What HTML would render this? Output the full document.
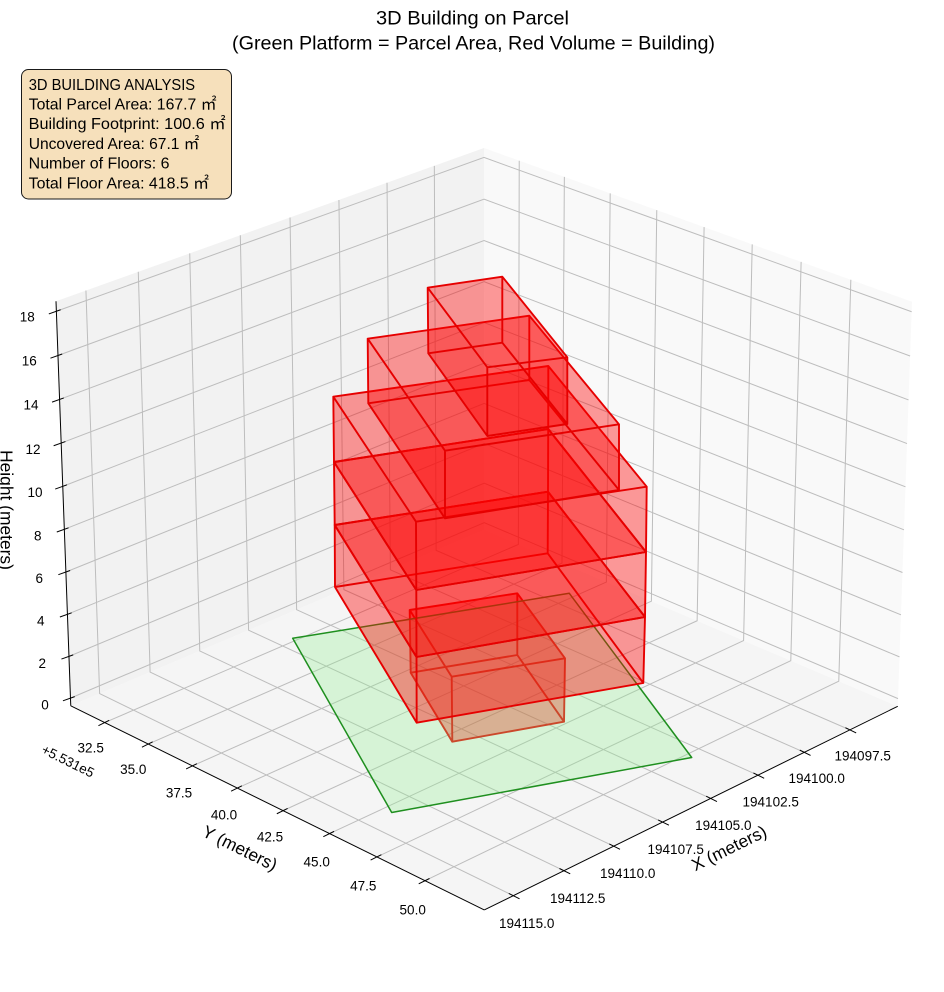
<!DOCTYPE html>
<html><head><meta charset="utf-8">
<style>
html,body{margin:0;padding:0;background:#fff;}
svg{display:block;font-family:"Liberation Sans","Noto Sans CJK JP",sans-serif;}
</style></head><body>
<svg id="s" width="944" height="992" viewBox="0 0 944 992" xmlns="http://www.w3.org/2000/svg">
<rect x="0" y="0" width="944" height="992" fill="#ffffff"/>
<g id="panes"></g>
<g id="grid" fill="none" stroke="#bdbdbd" stroke-width="1"></g>
<g id="axes" fill="none" stroke="#000" stroke-width="1"></g>
<g id="bld"></g>
<g id="txt" fill="#000">
  <text x="472.5" y="24.5" text-anchor="middle" font-size="19.8" textLength="193" lengthAdjust="spacingAndGlyphs">3D Building on Parcel</text>
  <text x="473.5" y="49.5" text-anchor="middle" font-size="19.8" textLength="483" lengthAdjust="spacingAndGlyphs">(Green Platform = Parcel Area, Red Volume = Building)</text>

  <rect x="21.5" y="69.5" width="210" height="129.5" rx="7" ry="7" fill="#f6e0bb" stroke="#1a1a1a" stroke-width="1"/>
  <g font-size="15.8">
    <text x="28.7" y="89.8" textLength="166.4" lengthAdjust="spacingAndGlyphs">3D BUILDING ANALYSIS</text>
    <text x="28.7" y="109.5" textLength="187.8" lengthAdjust="spacingAndGlyphs">Total Parcel Area: 167.7 ㎡</text>
    <text x="28.7" y="129.2" textLength="196.9" lengthAdjust="spacingAndGlyphs">Building Footprint: 100.6 ㎡</text>
    <text x="28.7" y="148.9" textLength="170.7" lengthAdjust="spacingAndGlyphs">Uncovered Area: 67.1 ㎡</text>
    <text x="28.7" y="168.6" textLength="140.8" lengthAdjust="spacingAndGlyphs">Number of Floors: 6</text>
    <text x="28.7" y="188.3" textLength="180.4" lengthAdjust="spacingAndGlyphs">Total Floor Area: 418.5 ㎡</text>
  </g>

  <g font-size="13.5" text-anchor="middle">
    <text x="27.3" y="316.7" dy="0.35em">18</text>
    <text x="29.3" y="360.7" dy="0.35em">16</text>
    <text x="31" y="405" dy="0.35em">14</text>
    <text x="33" y="449.3" dy="0.35em">12</text>
    <text x="35" y="492.3" dy="0.35em">10</text>
    <text x="37.7" y="536" dy="0.35em">8</text>
    <text x="39.3" y="578.3" dy="0.35em">6</text>
    <text x="40.7" y="621" dy="0.35em">4</text>
    <text x="42.3" y="663.3" dy="0.35em">2</text>
    <text x="45" y="705" dy="0.35em">0</text>

    <text x="90.7" y="747.7" dy="0.35em">32.5</text>
    <text x="133.3" y="769.3" dy="0.35em">35.0</text>
    <text x="179" y="792.7" dy="0.35em">37.5</text>
    <text x="224" y="815" dy="0.35em">40.0</text>
    <text x="270" y="837" dy="0.35em">42.5</text>
    <text x="316.7" y="861.7" dy="0.35em">45.0</text>
    <text x="363.3" y="885.7" dy="0.35em">47.5</text>
    <text x="412.7" y="910" dy="0.35em">50.0</text>

    <text x="862.7" y="755.7" dy="0.35em">194097.5</text>
    <text x="816.7" y="778.3" dy="0.35em">194100.0</text>
    <text x="770.7" y="801.7" dy="0.35em">194102.5</text>
    <text x="723.3" y="825.3" dy="0.35em">194105.0</text>
    <text x="675.7" y="849.3" dy="0.35em">194107.5</text>
    <text x="627.7" y="873.3" dy="0.35em">194110.0</text>
    <text x="577.7" y="898.3" dy="0.35em">194112.5</text>
    <text x="526.7" y="923.3" dy="0.35em">194115.0</text>

    <text transform="translate(68,761) rotate(26.3)" dy="0.35em">+5.531e5</text>
  </g>
  <g font-size="17.4" text-anchor="middle">
    <text transform="translate(6.5,510) rotate(90)" dy="0.35em">Height (meters)</text>
    <text transform="translate(240,848) rotate(26.3)" dy="0.35em">Y (meters)</text>
    <text transform="translate(729,848) rotate(-26.2)" dy="0.35em">X (meters)</text>
  </g>
</g>
</svg>
<script>
(function(){
const NS='http://www.w3.org/2000/svg';
function el(tag,attrs,parent){const e=document.createElementNS(NS,tag);for(const k in attrs)e.setAttribute(k,attrs[k]);parent.appendChild(e);return e;}
const C=[[1,1,0,484,910],[0,1,0,898,706],[1,0,0,71,706],[0,0,0,484,530],[1,0,1,56,301],[0,0,1,484,148],[0,1,1,912,302]];
const cu=480,cv=520,sc=400;
const rows=[],rhs=[];
for(const q of C){const X=q[0],Y=q[1],Z=q[2];const u=(q[3]-cu)/sc,v=(q[4]-cv)/sc;
 rows.push([X,Y,Z,1,0,0,0,0,-u*X,-u*Y,-u*Z]);rhs.push(u);
 rows.push([0,0,0,0,X,Y,Z,1,-v*X,-v*Y,-v*Z]);rhs.push(v);}
const n=11;const M=[];for(let i=0;i<n;i++)M.push(new Array(n+1).fill(0));
for(let r=0;r<rows.length;r++)for(let i=0;i<n;i++){for(let j=0;j<n;j++)M[i][j]+=rows[r][i]*rows[r][j];M[i][n]+=rows[r][i]*rhs[r];}
for(let i=0;i<n;i++){let pv=i;for(let k=i+1;k<n;k++)if(Math.abs(M[k][i])>Math.abs(M[pv][i]))pv=k;const t=M[i];M[i]=M[pv];M[pv]=t;
 for(let k=0;k<n;k++){if(k===i)continue;const f=M[k][i]/M[i][i];for(let j=i;j<=n;j++)M[k][j]-=f*M[i][j];}}
const p=M.map((r,i)=>r[n]/r[i]);
function P(a,b,c){const w=p[8]*a+p[9]*b+p[10]*c+1;return[(p[0]*a+p[1]*b+p[2]*c+p[3])/w*sc+cu,(p[4]*a+p[5]*b+p[6]*c+p[7])/w*sc+cv];}
const f2=q=>q[0].toFixed(2)+','+q[1].toFixed(2);
const xmin=94.83,xr=21.58,ymin=30.52,yr=22.5,zmin=-0.37,zr=18.82;
const A=x=>(x-xmin)/xr,B=y=>(y-ymin)/yr,Cc=z=>(z-zmin)/zr;

const pg=document.getElementById('panes');
el('polygon',{points:[P(1,0,0),P(1,1,0),P(0,1,0),P(0,0,0)].map(f2).join(' '),fill:'#f5f5f5'},pg);
el('polygon',{points:[P(1,0,0),P(0,0,0),P(0,0,1),P(1,0,1)].map(f2).join(' '),fill:'#f2f2f2'},pg);
el('polygon',{points:[P(0,0,0),P(0,1,0),P(0,1,1),P(0,0,1)].map(f2).join(' '),fill:'#f9f9f9'},pg);

const gg=document.getElementById('grid');
for(let z=0;z<=18;z+=2){const c=Cc(z);el('polyline',{points:[P(1,0,c),P(0,0,c),P(0,1,c)].map(f2).join(' ')},gg);}
for(let x=97.5;x<=115.01;x+=2.5){const a=A(x);el('polyline',{points:[P(a,1,0),P(a,0,0),P(a,0,1)].map(f2).join(' ')},gg);}
for(let y=32.5;y<=50.01;y+=2.5){const b=B(y);el('polyline',{points:[P(1,b,0),P(0,b,0),P(0,b,1)].map(f2).join(' ')},gg);}

const ag=document.getElementById('axes');
el('line',{x1:P(1,0,0)[0],y1:P(1,0,0)[1],x2:P(1,0,1)[0],y2:P(1,0,1)[1]},ag);
el('line',{x1:P(1,0,0)[0],y1:P(1,0,0)[1],x2:P(1,1,0)[0],y2:P(1,1,0)[1]},ag);
el('line',{x1:P(1,1,0)[0],y1:P(1,1,0)[1],x2:P(0,1,0)[0],y2:P(0,1,0)[1]},ag);
function tick(q,d,i,o){el('line',{x1:q[0]-d[0]*i,y1:q[1]-d[1]*i,x2:q[0]+d[0]*o,y2:q[1]+d[1]*o},ag);}
for(let z=0;z<=18;z+=2)tick(P(1,0,Cc(z)),[-0.942,0.337],4.5,8);
for(let y=32.5;y<=50.01;y+=2.5)tick(P(1,B(y),0),[-0.897,0.443],5,7);
for(let x=97.5;x<=115.01;x+=2.5)tick(P(A(x),1,0),[0.897,0.443],5,7);

const bg=document.getElementById('bld');
function box(T,Bt){
 const pts=a=>a.map(q=>q.join(',')).join(' ');
 const faces=[T,Bt];
 for(let i=0;i<4;i++){const j=(i+1)%4;faces.push([T[i],T[j],Bt[j],Bt[i]]);}
 for(const f of faces)el('polygon',{points:pts(f),fill:'#ff0000','fill-opacity':0.22},bg);
 let d='M'+T.map(q=>q.join(',')).join('L')+'Z M'+Bt.map(q=>q.join(',')).join('L')+'Z';
 for(let i=0;i<4;i++)d+=' M'+T[i].join(',')+'L'+Bt[i].join(',');
 el('path',{d:d,fill:'none',stroke:'#e60000','stroke-width':1.9,'stroke-linejoin':'round'},bg);
}
const F1T=[[409.7,610],[517.3,593.3],[565,658.3],[451.7,676.7]],F1B=[[410.7,672.7],[517.3,655],[564,721.7],[452.3,741.7]];
const Z12=[[333.3,396.7],[548.3,366],[646.7,486.7],[416,521.7]];
const Z9=[[334,462],[548.2,429],[646,552],[416.3,590]];
const Z6=[[334.7,525],[548,491.7],[645,617],[416.5,657]];
const Z3=[[335,587],[547.7,553.3],[643.3,683],[416.7,722.7]];
const F5T=[[367.7,338.7],[529.3,315.7],[619,424.3],[445,450.7]],F5B=[[368.3,403.3],[529.3,380],[619,490],[445,518.3]];
const F6T=[[427.7,287.7],[502.3,276.7],[567.3,357.3],[487.3,367.3]],F6B=[[428.3,353.3],[502.3,342.7],[567.3,424],[487.3,436]];
box(F1T,F1B);
el('polygon',{points:'292.7,638.3 569.3,593.3 691.7,757.5 391.7,812.5',fill:'#90ee90','fill-opacity':0.3,stroke:'#1f8f1f','stroke-width':1.5,'stroke-linejoin':'round'},bg);
box(Z6,Z3);box(Z9,Z6);box(Z12,Z9);box(F5T,F5B);box(F6T,F6B);
})();
</script>
</body></html>
